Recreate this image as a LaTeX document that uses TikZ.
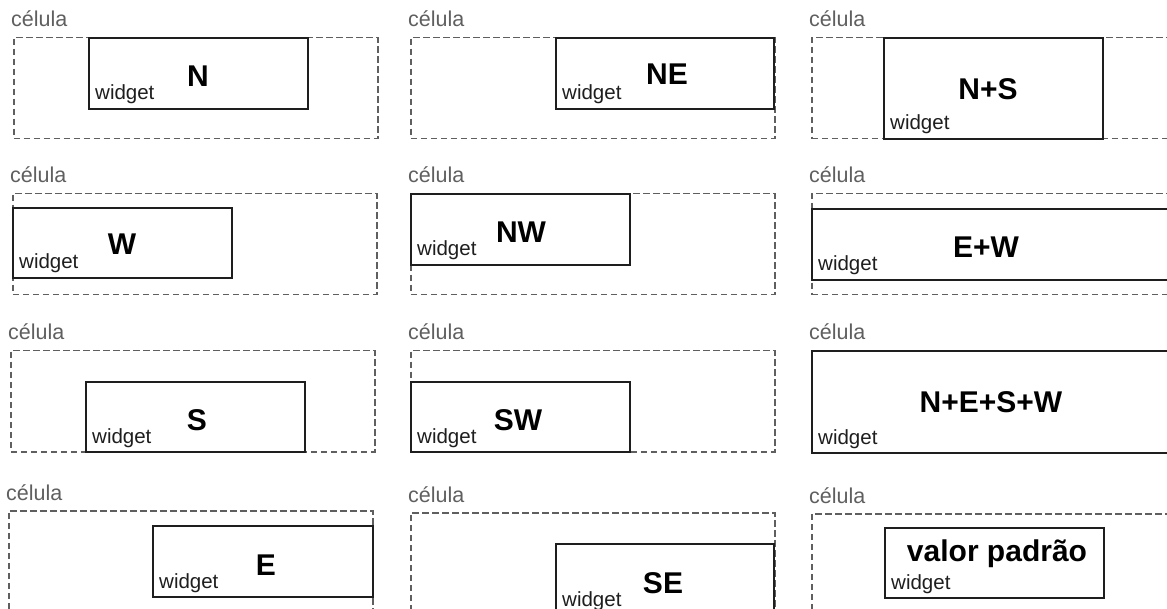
\documentclass[tikz,border=0pt]{standalone}
\usepackage{fontspec}
\setmainfont{Liberation Sans}
\usepackage{tikz}
\usetikzlibrary{positioning}
\definecolor{mygray}{RGB}{95,95,95}
\definecolor{mydark}{RGB}{30,30,30}

\begin{document}
\begin{tikzpicture}[x=1pt,y=-1pt,
  cell/.style={draw=mygray, line width=1.5pt, dash pattern=on 6.5pt off 3.5pt, anchor=north west, inner sep=0pt, minimum width=364pt, minimum height=101pt},
  wbox/.style={draw=mydark, line width=2pt, fill=white, anchor=north west, inner sep=0pt, minimum width=219pt, minimum height=71pt},
  ctext/.style={anchor=base west, text=mygray, font=\fontsize{21.5}{21.5}\selectfont, inner sep=0pt},
  wtext/.style={anchor=base west, text=mydark, font=\fontsize{20.5}{20.5}\selectfont, inner sep=0pt},
  big/.style={anchor=base, font=\fontsize{30}{30}\selectfont\bfseries, inner sep=0pt}]
  \clip (0,0) rectangle (1167,609);

  % cells
  \node[cell] (c1) at (13,37) {};
  \node[cell] (c2) at (410,37) {};
  \node[cell, minimum width=380pt] (c3) at (811,37) {};
  \node[cell] (c4) at (12,193) {};
  \node[cell] (c5) at (410,193) {};
  \node[cell, minimum width=380pt] (c6) at (811,193) {};
  \node[cell] (c7) at (10,350) {};
  \node[cell] (c8) at (410,350) {};
  \node[cell, minimum width=380pt] (c9) at (811,350) {};
  \node[cell, minimum height=120pt] (c10) at (8,510) {};
  \node[cell, minimum height=120pt] (c11) at (410,512) {};
  \node[cell, minimum width=380pt, minimum height=120pt] (c12) at (811,513) {};
  \foreach \i in {1,...,12}
    \node[ctext] (k\i) at ([xshift=-2pt,yshift=10pt]c\i.north west) {célula};

  % widgets
  \node[wbox] (w1) at (88,37) {};
  \node[wbox, minimum width=218pt] (w2) at (555,37) {};
  \node[wbox, minimum height=101pt] (w3) at (883,37) {};
  \node[wbox, minimum height=70pt] (w4) at (12,207) {};
  \node[wbox] (w5) at (410,193) {};
  \node[wbox, minimum width=380pt] (w6) at (811,208) {};
  \node[wbox, minimum height=70pt] (w7) at (85,381) {};
  \node[wbox, minimum height=70pt] (w8) at (410,381) {};
  \node[wbox, minimum width=380pt, minimum height=102pt] (w9) at (811,350) {};
  \node[wbox, minimum width=220pt] (w10) at (152,525) {};
  \node[wbox, minimum width=218pt] (w11) at (555,543) {};
  \node[wbox, minimum height=70pt] (w12) at (884,527) {};
  \foreach \i in {1,...,12}
    \node[wtext] (l\i) at ([xshift=7pt,yshift=10pt]w\i.south west) {widget};

  % alignment names
  \node[big] (t1) at (198,87) {N};
  \node[big] (t2) at (667,85) {NE};
  \node[big] (t3) at (988,100) {N+S};
  \node[big] (t4) at (122,255) {W};
  \node[big] (t5) at (521,243) {NW};
  \node[big] (t6) at (986,258) {E+W};
  \node[big] (t7) at (197,430) {S};
  \node[big] (t8) at (518,430) {SW};
  \node[big] (t9) at (991,412) {N+E+S+W};
  \node[big] (t10) at (266,575) {E};
  \node[big] (t11) at (663,593) {SE};
  \node[big] (t12) at (997,561) {valor padrão};
\end{tikzpicture}
\end{document}
